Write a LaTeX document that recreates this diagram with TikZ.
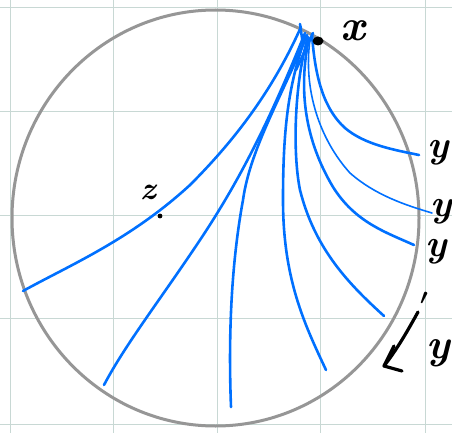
\documentclass[tikz,border=0pt]{standalone}
\usepackage{fontspec}
\usetikzlibrary{arrows.meta}
\definecolor{gridc}{RGB}{200,216,212}
\definecolor{circc}{RGB}{150,150,150}
\definecolor{pathc}{RGB}{0,112,255}
\tikzset{
  gridline/.style={gridc, line width=1pt},
  rim/.style={circc, line width=3pt},
  geo/.style={pathc, line width=2.6pt, line cap=round},
  geothin/.style={pathc, line width=1.6pt, line cap=round},
  ink/.style={black, line width=3.2pt, line cap=round, line join=round},
  hand/.style={inner sep=0pt, font=\fontsize{44}{44}\selectfont\bfseries\itshape},
  handy/.style={inner sep=0pt, font=\fontsize{38}{38}\selectfont\bfseries\itshape},
}
\begin{document}
\begin{tikzpicture}[x=1pt,y=-1pt]
\useasboundingbox (0,0) rectangle (452,433);
% grid
\foreach \gx in {10,113,217,320,425} \draw[gridline] (\gx,0) -- (\gx,433);
\foreach \gy in {8,112,215,318,424} \draw[gridline] (0,\gy) -- (452,\gy);
% circle
\draw[rim] (215.5,218) ellipse [x radius=203.5, y radius=208];
% named points
\coordinate (zend) at (23,291);
\coordinate (b) at (104,385);
\coordinate (c) at (231,407);
\coordinate (d) at (326,370);
\coordinate (e) at (384,316);
\coordinate (f) at (414,245);
\coordinate (g) at (432,213);
\coordinate (h) at (419,155);
% geodesics
\draw[geo] (301,27) .. controls (275,85) and (240,135) .. (190,185) .. controls (130,240) and (70,265) .. (zend);
\draw[geo] (305,33) .. controls (270,120) and (240,180) .. (200,240) .. controls (160,300) and (125,345) .. (b);
\draw[geo] (307,35) .. controls (280,100) and (250,150) .. (243,200) .. controls (232,260) and (228,330) .. (c);
\draw[geo] (306,36) .. controls (288,85) and (283,130) .. (283,200) .. controls (283,280) and (305,325) .. (d);
\draw[geo] (308,37) .. controls (295,80) and (292,150) .. (300,190) .. controls (315,250) and (350,285) .. (e);
\draw[geo] (309,38) .. controls (298,90) and (305,140) .. (333,187) .. controls (355,222) and (385,232) .. (f);
\draw[geothin] (310,40) .. controls (303,90) and (320,140) .. (350,173) .. controls (375,195) and (405,205) .. (g);
\draw[geo] (312,34) .. controls (315,80) and (325,110) .. (345,128) .. controls (365,145) and (395,150) .. (h);
\draw[geo] (300,24) -- (303,45);
\draw[geo] (313,33) -- (296,70);
% point x and z
\fill[black] (318,41) ellipse [x radius=5.5, y radius=4.5];
\fill[black] (160,216) circle (2.4);
% labels
\node[hand] (lx) at (353,31) {x};
\node[handy, font=\fontsize{32}{32}\selectfont\bfseries\itshape] (lz) at (148,192) {z};
\node[handy] (ly1) at (438,153) {y};
\node[handy] (ly2) at (441,212) {y};
\node[handy] (ly3) at (436,252) {y};
\node[handy, font=\fontsize{42}{42}\selectfont\bfseries\itshape] (ly4) at (438,353) {y};
\node[inner sep=0pt] (lprime) at (424,298) {\scalebox{2.2}{\boldmath$\prime$}};
% arrow
\coordinate (as) at (418,312);
\coordinate (at) at (384,366);
\draw[ink] (as) .. controls (408,330) and (398,348) .. (at);
\draw[ink] (394,346) -- (at) -- (402,371);
\end{tikzpicture}
\end{document}
